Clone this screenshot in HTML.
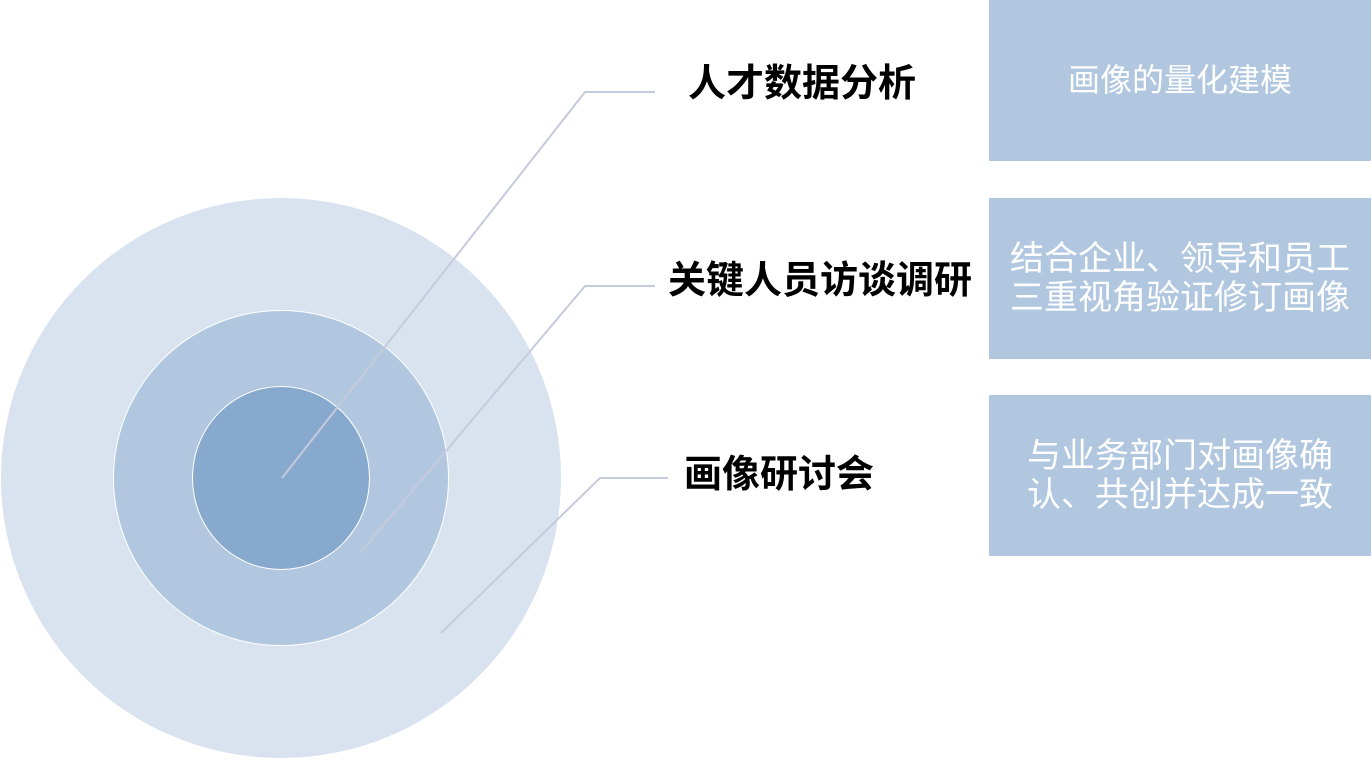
<!DOCTYPE html>
<html><head><meta charset="utf-8"><style>
body{margin:0;width:1371px;height:760px;background:#fff;position:relative;overflow:hidden;font-family:"Liberation Sans","Noto Sans CJK SC",sans-serif}
.c{position:absolute;border-radius:50%}
.lab{position:absolute;font-weight:bold;font-size:38px;color:#000;white-space:nowrap;line-height:1}
.box{position:absolute;left:989px;width:382px;height:161px;background:#b0c7df;color:#fff;display:flex;align-items:center;justify-content:center;text-align:center;font-size:34px;line-height:39px}
</style></head><body>
<div class="c" style="left:1px;top:198px;width:560px;height:560px;background:#d8e3ef"></div>
<div class="c" style="left:113px;top:310px;width:336px;height:336px;background:#b0c7df;border:1px solid #fff;box-sizing:border-box"></div>
<div class="c" style="left:192px;top:386px;width:178px;height:184px;background:#87a9cd;border:1px solid #fff;box-sizing:border-box"></div>
<svg style="position:absolute;left:0;top:0" width="1371" height="760">
<g fill="none" stroke="#c5cadc" stroke-width="2">
<polyline points="282,478 585,92 655,92"/>
<polyline points="360,553 585,286 655,286"/>
<polyline points="441,633 600,478 668,478"/>
</g></svg>
<div class="lab" style="left:688px;top:65px">人才数据分析</div>
<div class="lab" style="left:668px;top:262px">关键人员访谈调研</div>
<div class="lab" style="left:684px;top:456px">画像研讨会</div>
<div class="box" style="top:0;font-size:32px">画像的量化建模</div>
<div class="box" style="top:198px">结合企业、领导和员工<br>三重视角验证修订画像</div>
<div class="box" style="top:395px">与业务部门对画像确<br>认、共创并达成一致</div>
</body></html>
